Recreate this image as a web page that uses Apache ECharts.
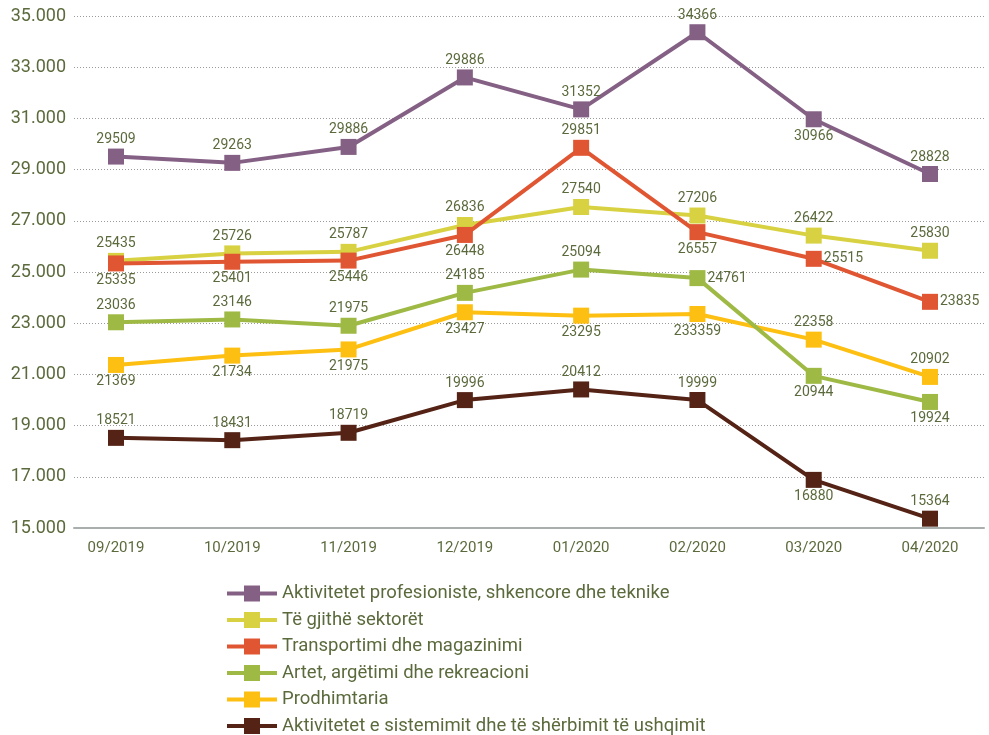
<!DOCTYPE html>
<html>
<head>
<meta charset="utf-8">
<script src="https://cdn.jsdelivr.net/npm/echarts@6/dist/echarts.min.js"></script>
<style>
  html, body { margin: 0; padding: 0; background: #ffffff; }
  #chart { width: 989px; height: 735px; }
</style>
</head>
<body>
<div id="chart"></div>
<script>
// Monthly categories
const months = ['09/2019', '10/2019', '11/2019', '12/2019', '01/2020', '02/2020', '03/2020', '04/2020'];

// Series values
const profesioniste = [29509, 29263, 29886, 32600, 31352, 34366, 30966, 28828];
const teGjitheSektoret = [25435, 25726, 25787, 26836, 27540, 27206, 26422, 25830];
const transportimi = [25335, 25401, 25446, 26448, 29851, 26557, 25515, 23835];
const artet = [23036, 23146, 22900, 24185, 25094, 24761, 20944, 19924];
const prodhimtaria = [21369, 21734, 21975, 23427, 23295, 23359, 22358, 20902];
const sistemimi = [18521, 18431, 18719, 19996, 20412, 19999, 16880, 15364];

// Numbers as printed in the source table where they differ from the plotted value
const printedProfesioniste = { 3: '29886' };
const printedArtet = { 2: '21975' };
const printedProdhimtaria = { 5: '233359' };

// Y axis ticks
const yMin = 15000, yMax = 35000, yStep = 2000;

const textColor = '#5b6a3c';
const font = 'Roboto';

const chart = echarts.init(document.getElementById('chart'), null, { renderer: 'canvas' });

function lineSeries(name, values, color, places, printed, z) {
  return {
    name: name,
    type: 'line',
    xAxisIndex: 0,
    yAxisIndex: 0,
    z: z,
    data: values.map((v, i) => ({ value: v, label: { position: places[i] } })),
    symbol: 'rect',
    symbolSize: 16,
    showAllSymbol: true,
    lineStyle: { color: color, width: 4 },
    itemStyle: { color: color },
    emphasis: { disabled: true },
    label: {
      show: true,
      distance: 2,
      fontFamily: font,
      fontSize: 14,
      color: textColor,
      formatter: p => (printed && printed[p.dataIndex] !== undefined) ? printed[p.dataIndex] : String(p.value)
    },
    labelLayout: { hideOverlap: false }
  };
}

const allTop = ['top', 'top', 'top', 'top', 'top', 'top', 'top', 'top'];

const option = {
  animation: false,
  backgroundColor: '#ffffff',
  textStyle: { fontFamily: font },
  grid: [
    { left: 116, right: 59, top: 16, bottom: 207 },
    { left: 74, right: 5, top: 16, bottom: 207 }
  ],
  xAxis: [
    {
      type: 'category',
      gridIndex: 0,
      data: months,
      boundaryGap: false,
      axisLine: { show: false },
      axisTick: { show: false },
      axisLabel: { fontFamily: font, fontSize: 15, color: textColor, margin: 13 },
      splitLine: { show: false }
    },
    {
      type: 'value',
      gridIndex: 1,
      min: 0, max: 1,
      axisLine: { show: true, onZero: false, lineStyle: { color: '#a9afad', width: 2 } },
      axisTick: { show: false },
      axisLabel: { show: false },
      splitLine: { show: false }
    }
  ],
  yAxis: [
    {
      type: 'value',
      gridIndex: 0,
      min: yMin, max: yMax, interval: yStep,
      show: false,
      splitLine: { show: false }
    },
    {
      type: 'value',
      gridIndex: 1,
      min: yMin, max: yMax, interval: yStep,
      axisLine: { show: false },
      axisTick: { show: false },
      axisLabel: {
        fontFamily: font, fontSize: 18, color: textColor, margin: 8,
        formatter: v => (v / 1000).toFixed(3)
      },
      splitLine: { show: true, lineStyle: { color: '#9a9a9a', width: 1, type: [1, 2] } }
    }
  ],
  legend: {
    orient: 'vertical',
    left: 225,
    top: 584,
    height: 200,
    padding: 0,
    itemWidth: 50,
    itemHeight: 20,
    itemGap: 7.5,
    lineStyle: { width: 4 },
    textStyle: { fontFamily: font, fontSize: 18.5, color: textColor },
    data: [
      'Aktivitetet profesioniste, shkencore dhe teknike',
      'Të gjithë sektorët',
      'Transportimi dhe magazinimi',
      'Artet, argëtimi dhe rekreacioni',
      'Prodhimtaria',
      'Aktivitetet e sistemimit dhe të shërbimit të ushqimit'
    ]
  },
  series: [
    lineSeries('Aktivitetet profesioniste, shkencore dhe teknike', profesioniste, '#856085',
      ['top', 'top', 'top', 'top', 'top', 'top', 'bottom', 'top'], printedProfesioniste, 3),
    lineSeries('Të gjithë sektorët', teGjitheSektoret, '#d8d242', allTop, null, 3),
    lineSeries('Transportimi dhe magazinimi', transportimi, '#e05633',
      ['bottom', 'bottom', 'bottom', 'bottom', 'top', 'bottom', 'right', 'right'], null, 4),
    lineSeries('Prodhimtaria', prodhimtaria, '#fdbf12',
      ['bottom', 'bottom', 'bottom', 'bottom', 'bottom', 'bottom', 'top', 'top'], printedProdhimtaria, 4),
    lineSeries('Artet, argëtimi dhe rekreacioni', artet, '#9fb945',
      ['top', 'top', 'top', 'top', 'top', 'right', 'bottom', 'bottom'], printedArtet, 5),
    lineSeries('Aktivitetet e sistemimit dhe të shërbimit të ushqimit', sistemimi, '#542316',
      ['top', 'top', 'top', 'top', 'top', 'top', 'bottom', 'top'], null, 5)
  ]
};

chart.setOption(option);
</script>
</body>
</html>
